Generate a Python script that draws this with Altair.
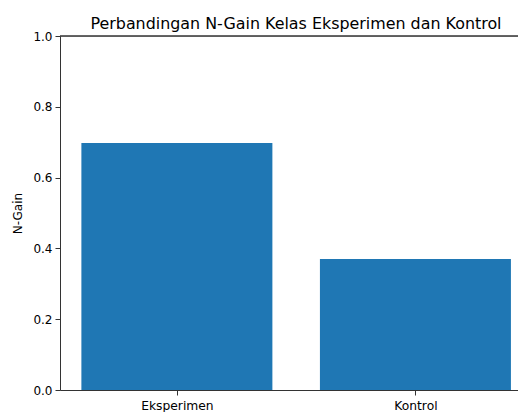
import altair as alt
import pandas as pd

categories = ["Eksperimen", "Kontrol"]
positions = [0, 1]
ngain = [0.698, 0.370]
y_ticks = [0.0, 0.2, 0.4, 0.6, 0.8, 1.0]

df = pd.DataFrame({"Kelas": categories, "pos": positions, "N-Gain": ngain})

FONT = "DejaVu Sans"
W, H = 458, 354
AXC = "#333333"

label_expr = "datum.value == 0 ? 'Eksperimen' : datum.value == 1 ? 'Kontrol' : ''"

bars = alt.Chart(df).mark_bar(color="#1f77b4", size=191).encode(
    x=alt.X("pos:Q", scale=alt.Scale(domain=[-0.49, 1.430], nice=False, zero=False, padding=0),
            axis=alt.Axis(title=None, values=positions, labelExpr=label_expr,
                          labelAngle=0, labelFont=FONT, labelFontSize=12.3,
                          labelColor="black", domainColor=AXC, tickColor=AXC,
                          tickSize=5, labelPadding=4.5, grid=False)),
    y=alt.Y("N-Gain:Q", scale=alt.Scale(domain=[0, 1], nice=False),
            axis=alt.Axis(values=y_ticks, format=".1f", title="N-Gain", grid=False,
                          labelFont=FONT, labelFontSize=12, labelColor="black",
                          titleFont=FONT, titleFontSize=12, titleFontWeight="normal",
                          titleColor="black", domainColor=AXC, tickColor=AXC,
                          tickSize=5, labelPadding=3, titlePadding=8)),
)

top = alt.Chart(df).mark_rule(color=AXC, strokeWidth=1).encode(
    y=alt.value(0), x=alt.value(0), x2=alt.value(W)
)

chart = alt.layer(bars, top).properties(
    width=W, height=H,
    title=alt.TitleParams("Perbandingan N-Gain Kelas Eksperimen dan Kontrol",
                          font=FONT, fontSize=15.9, fontWeight="normal",
                          color="black", anchor="middle", dx=7, offset=-2),
    autosize=alt.AutoSizeParams(type="none"),
    padding={"left": 52, "top": 28, "right": 0, "bottom": 22},
).configure_view(stroke=None).configure(background="white")

chart.save("out.html", embed_options={"renderer": "svg", "actions": False})
